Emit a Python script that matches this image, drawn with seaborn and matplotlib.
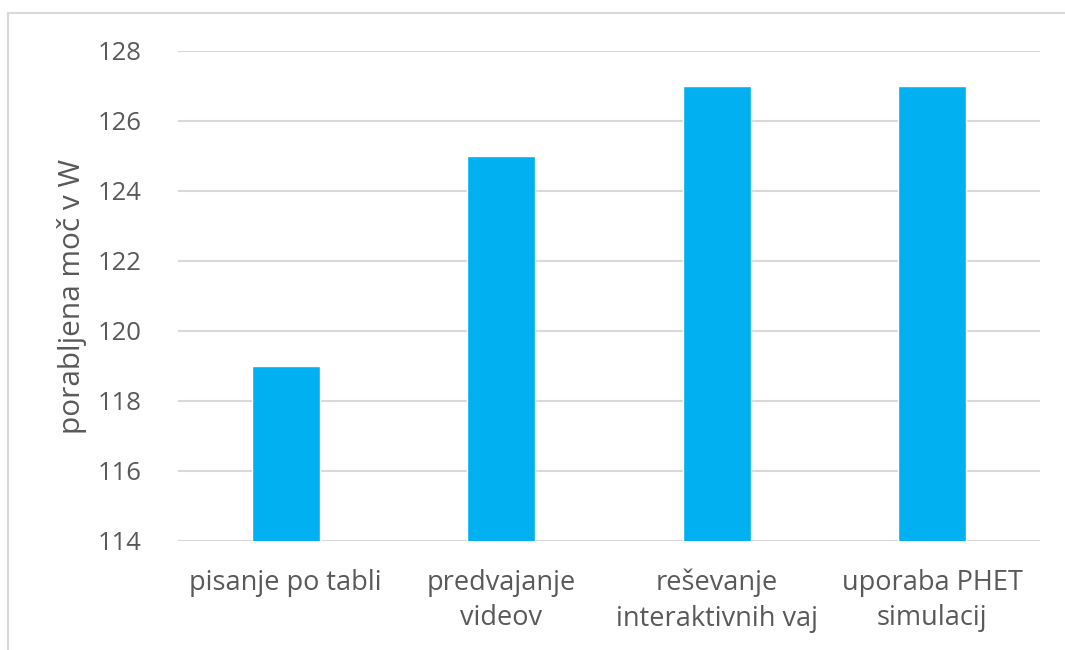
import matplotlib
matplotlib.use("Agg")
import matplotlib.pyplot as plt
import seaborn as sns
import pandas as pd
from matplotlib.lines import Line2D

categories = ["pisanje po tabli", "predvajanje\nvideov", "reševanje\ninteraktivnih vaj", "uporaba PHET\nsimulacij"]
power = [119, 125, 127, 127]
y_ticks = [114, 116, 118, 120, 122, 124, 126, 128]
y_label = "porabljena moč v W"

sns.set_style("white")
plt.rcParams["font.family"] = ["Open Sans", "DejaVu Sans"]

df = pd.DataFrame({"dejavnost": categories, "moc": power})

fig = plt.figure(figsize=(10.65, 6.5), dpi=100)
ax = fig.add_axes([178 / 1065, 1 - 541 / 650, (1040 - 178) / 1065, (541 - 51) / 650])

sns.barplot(data=df, x="dejavnost", y="moc", order=categories, color="#00B0F0",
            width=0.315, ax=ax, saturation=1, zorder=3)

ax.set_ylim(y_ticks[0], y_ticks[-1])
ax.set_xlim(-0.5, len(categories) - 0.5)
ax.set_yticks(y_ticks)
ax.set_yticklabels([str(t) for t in y_ticks])
ax.yaxis.grid(True, color="#d9d9d9", linewidth=1.5, zorder=0)
ax.set_axisbelow(True)
for s in ["top", "right", "left", "bottom"]:
    ax.spines[s].set_visible(False)
ax.tick_params(axis="y", length=0, pad=26, labelsize=18.5, labelcolor="#595959")
ax.tick_params(axis="x", length=0, pad=20, labelsize=19.5, labelcolor="#595959")
ax.set_xlabel("")
ax.set_ylabel(y_label, fontsize=21.5, color="#595959", labelpad=8)
for lbl in ax.get_xticklabels():
    lbl.set_linespacing(1.35)

# outer chart frame (top and left edges)
fig.add_artist(Line2D([8 / 1065, 8 / 1065], [0, 1 - 13 / 650], transform=fig.transFigure,
                      color="#d9d9d9", linewidth=1.5))
fig.add_artist(Line2D([8 / 1065, 1], [1 - 13 / 650, 1 - 13 / 650], transform=fig.transFigure,
                      color="#d9d9d9", linewidth=1.5))

fig.savefig("out.png", dpi=100)
